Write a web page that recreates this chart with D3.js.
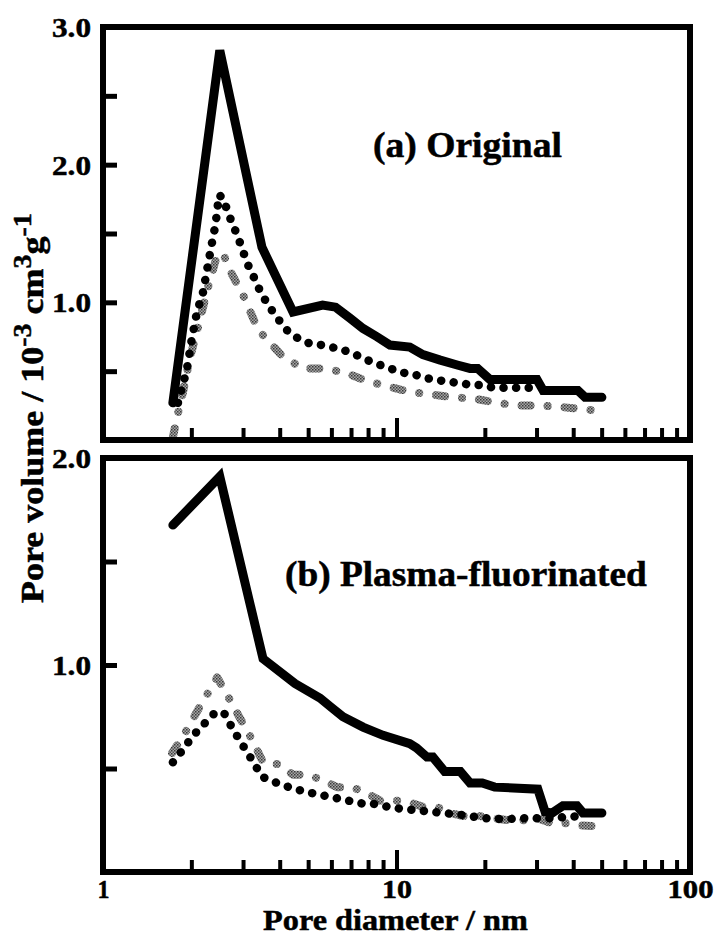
<!DOCTYPE html>
<html>
<head>
<meta charset="utf-8">
<script src="https://cdn.jsdelivr.net/npm/d3@7/dist/d3.min.js"></script>
<style>
  html, body { margin: 0; padding: 0; background: #fff; }
  svg { display: block; }
  text { font-family: "Liberation Serif", "Times New Roman", serif; font-weight: bold; fill: #000; stroke: #000; stroke-width: 0.5px; }
</style>
</head>
<body>
<svg id="chart" width="720" height="946"></svg>
<script>
// Pore size distributions: [pore diameter (nm), pore volume (10^-3 cm^3 g^-1)]

// (a) Original
const origSolid = [
  [1.73, 0.27], [2.50, 2.83], [3.48, 1.40], [4.44, 0.93], [5.60, 0.98], [6.20, 0.965],
  [6.94, 0.885], [7.69, 0.81], [8.58, 0.75], [9.50, 0.69], [11.1, 0.675], [12.3, 0.62],
  [14.1, 0.58], [16.1, 0.545], [17.8, 0.52], [18.9, 0.52], [20.8, 0.44], [30.1, 0.44],
  [31.6, 0.36], [41.5, 0.36], [43.9, 0.31], [50.1, 0.31]
];
const origDotted = [
  [1.80, 0.27], [1.93, 0.51], [2.01, 0.74], [2.09, 0.93], [2.19, 1.07], [2.30, 1.32],
  [2.35, 1.43], [2.41, 1.55], [2.45, 1.66], [2.48, 1.78], [2.56, 1.76], [2.69, 1.63],
  [2.82, 1.525], [2.97, 1.40], [3.09, 1.29], [3.27, 1.18], [3.45, 1.07], [3.68, 0.97],
  [3.98, 0.87], [4.30, 0.78], [4.69, 0.73], [5.08, 0.70], [5.54, 0.69], [5.98, 0.675],
  [6.47, 0.66], [7.05, 0.63], [7.63, 0.60], [8.25, 0.565], [8.93, 0.54], [9.65, 0.515],
  [10.4, 0.49], [11.3, 0.48], [12.2, 0.46], [13.2, 0.44], [14.3, 0.43], [15.5, 0.42],
  [16.7, 0.41], [18.1, 0.40], [19.6, 0.40], [21.3, 0.38], [30.8, 0.38]
];
const origGray = [
  [1.73, 0.02], [1.79, 0.17], [1.87, 0.34], [1.98, 0.60], [2.12, 0.84], [2.28, 1.11],
  [2.43, 1.32], [2.56, 1.36], [2.71, 1.23], [3.02, 1.04], [3.38, 0.80], [4.04, 0.62],
  [4.77, 0.52], [5.62, 0.52], [6.68, 0.49], [7.90, 0.43], [9.50, 0.385], [11.1, 0.35],
  [13.2, 0.33], [15.6, 0.31], [18.5, 0.30], [22.0, 0.27], [25.9, 0.25], [30.8, 0.25],
  [36.1, 0.24], [43.2, 0.225], [49.4, 0.21]
];

// (b) Plasma-fluorinated
const fluorSolid = [
  [1.73, 1.676], [2.50, 1.91], [3.51, 1.03], [4.51, 0.91], [5.49, 0.84], [5.94, 0.80],
  [6.57, 0.75], [7.69, 0.70], [9.00, 0.66], [11.1, 0.62], [11.7, 0.60], [12.7, 0.555],
  [13.3, 0.555], [14.6, 0.485], [16.5, 0.485], [17.8, 0.43], [19.6, 0.43], [21.6, 0.41],
  [30.3, 0.40], [32.1, 0.29], [33.9, 0.285], [36.9, 0.32], [41.2, 0.32], [43.2, 0.285],
  [50.1, 0.285]
];
const fluorDotted = [
  [1.73, 0.53], [1.87, 0.59], [2.03, 0.66], [2.21, 0.715], [2.41, 0.77], [2.58, 0.77],
  [2.77, 0.69], [3.00, 0.61], [3.24, 0.535], [3.48, 0.46], [3.77, 0.44], [4.07, 0.42],
  [4.44, 0.405], [4.80, 0.39], [5.19, 0.38], [5.62, 0.37], [6.08, 0.36], [6.57, 0.35],
  [7.11, 0.34], [7.69, 0.33], [8.32, 0.33], [9.73, 0.31], [11.4, 0.30], [14.4, 0.285],
  [16.9, 0.275], [19.7, 0.26], [23.4, 0.255], [27.4, 0.26], [30.1, 0.26], [33.3, 0.26],
  [37.5, 0.265], [42.2, 0.27]
];
const fluorGray = [
  [1.72, 0.575], [1.90, 0.67], [2.14, 0.80], [2.45, 0.94], [2.65, 0.855], [2.91, 0.75],
  [3.22, 0.64], [3.51, 0.53], [3.98, 0.52], [4.44, 0.47], [4.95, 0.47], [5.58, 0.445],
  [6.27, 0.41], [7.05, 0.41], [7.81, 0.385], [8.79, 0.345], [9.90, 0.345], [10.9, 0.34],
  [12.3, 0.315], [13.7, 0.315], [15.2, 0.285], [16.9, 0.27], [19.3, 0.27], [21.5, 0.26],
  [24.0, 0.25], [27.0, 0.25], [30.1, 0.26], [33.9, 0.235], [38.1, 0.235], [42.2, 0.225],
  [49.0, 0.22]
];

// Axis ticks and labels
const xMinorTicks = [2, 3, 4, 5, 6, 7, 8, 9, 20, 30, 40, 50, 60, 70, 80, 90];
const xMajorTicks = [10];
const xTickLabels = [1, 10, 100];
const yTicksTop = [0.5, 1, 1.5, 2, 2.5];
const yLabelsTop = [1, 2, 3];
const yTicksBottom = [0.5, 1, 1.5];
const yLabelsBottom = [1, 2];

const svg = d3.select("#chart");
const plotLeft = 103, plotRight = 690;

// halftone fill for the gray series
const defs = svg.append("defs");
const pat = defs.append("pattern")
  .attr("id", "halftone")
  .attr("patternUnits", "userSpaceOnUse")
  .attr("width", 3)
  .attr("height", 3);
pat.append("rect").attr("width", 3).attr("height", 3).attr("fill", "#a8a8a8");
pat.append("rect").attr("width", 1.5).attr("height", 1.5).attr("fill", "#3a3a3a");
pat.append("rect").attr("x", 1.5).attr("y", 1.5).attr("width", 1.5).attr("height", 1.5).attr("fill", "#555");

const x = d3.scaleLog().domain([1, 100]).range([plotLeft, plotRight]);

// Horizontally stretch a text element to a given width, about its x anchor
function stretchTo(sel, widthFn) {
  sel.each(function (d) {
    const node = this;
    const natural = node.getComputedTextLength();
    const target = typeof widthFn === "function" ? widthFn(d, node) : widthFn;
    const s = target / natural;
    const x0 = +node.getAttribute("x") || 0;
    d3.select(node).attr("transform", `translate(${x0},0) scale(${s},1) translate(${-x0},0)`);
  });
}

const panels = [
  {
    top: 27, bottom: 440, max: 3,
    ticks: yTicksTop, labels: yLabelsTop,
    solid: origSolid, dotted: origDotted, gray: origGray,
    title: "(a) Original", titleX: 373, titleY: 157, titleW: 189
  },
  {
    top: 458, bottom: 872, max: 2,
    ticks: yTicksBottom, labels: yLabelsBottom,
    solid: fluorSolid, dotted: fluorDotted, gray: fluorGray,
    title: "(b) Plasma-fluorinated", titleX: 285, titleY: 586, titleW: 362
  }
];

panels.forEach((p, i) => {
  const y = d3.scaleLinear().domain([0, p.max]).range([p.bottom, p.top]);
  const g = svg.append("g");

  const line = d3.line().x(d => x(d[0])).y(d => y(d[1]));

  // gray dash-dot series
  g.append("path")
    .datum(p.gray)
    .attr("d", line)
    .attr("fill", "none")
    .attr("stroke", "url(#halftone)")
    .attr("stroke-width", 8)
    .attr("stroke-linecap", "round")
    .attr("stroke-linejoin", "round")
    .attr("stroke-dasharray", "9 17 0.1 17");

  // black dotted series
  g.append("path")
    .datum(p.dotted)
    .attr("d", line)
    .attr("fill", "none")
    .attr("stroke", "#000")
    .attr("stroke-width", 8.5)
    .attr("stroke-linecap", "round")
    .attr("stroke-dasharray", "0.1 12.5");

  // solid series
  g.append("path")
    .datum(p.solid)
    .attr("d", line)
    .attr("fill", "none")
    .attr("stroke", "#000")
    .attr("stroke-width", 9)
    .attr("stroke-linecap", "round")
    .attr("stroke-linejoin", "miter");

  // inward y tick marks
  const yTickAxis = g.append("g")
    .attr("transform", `translate(${plotLeft},0)`)
    .call(d3.axisLeft(y).tickValues(p.ticks).tickSize(-14).tickFormat(""));
  yTickAxis.select(".domain").remove();
  yTickAxis.selectAll("line").attr("stroke", "#000").attr("stroke-width", 5);

  // y tick labels
  const yLab = g.append("g")
    .attr("transform", `translate(${plotLeft},0)`)
    .call(d3.axisLeft(y).tickValues(p.labels).tickSize(0).tickPadding(12).tickFormat(d3.format(".1f")));
  yLab.select(".domain").remove();
  yLab.selectAll("text")
    .attr("font-size", 28)
    .attr("font-family", null)
    .attr("dy", "0.34em")
    .call(stretchTo, 39);

  // inward x tick marks (minor and decade)
  const xMinor = g.append("g")
    .attr("transform", `translate(0,${p.bottom})`)
    .call(d3.axisBottom(x).tickValues(xMinorTicks).tickSize(-12).tickFormat(""));
  xMinor.select(".domain").remove();
  xMinor.selectAll("line").attr("stroke", "#000").attr("stroke-width", 4);

  const xMajor = g.append("g")
    .attr("transform", `translate(0,${p.bottom})`)
    .call(d3.axisBottom(x).tickValues(xMajorTicks).tickSize(-22).tickFormat(""));
  xMajor.select(".domain").remove();
  xMajor.selectAll("line").attr("stroke", "#000").attr("stroke-width", 4);

  // frame
  g.append("rect")
    .attr("x", plotLeft)
    .attr("y", p.top)
    .attr("width", plotRight - plotLeft)
    .attr("height", p.bottom - p.top)
    .attr("fill", "none")
    .attr("stroke", "#000")
    .attr("stroke-width", 6);

  // panel title
  g.append("text")
    .attr("x", p.titleX)
    .attr("y", p.titleY)
    .attr("font-size", 35)
    .text(p.title)
    .call(stretchTo, p.titleW);

  // x tick labels under the lower panel
  if (i === panels.length - 1) {
    const widths = { 1: 12, 10: 30, 100: 46 };
    const xLab = g.append("g")
      .attr("transform", `translate(0,${p.bottom})`)
      .call(d3.axisBottom(x).tickValues(xTickLabels).tickSize(0).tickFormat(d3.format("d")));
    xLab.select(".domain").remove();
    xLab.selectAll("text")
      .attr("font-size", 26)
      .attr("font-family", null)
      .attr("y", 26)
      .attr("dy", 0)
      .call(stretchTo, d => widths[d]);
  }
});

// x axis title
svg.append("text")
  .attr("x", 395.5)
  .attr("y", 930)
  .attr("text-anchor", "middle")
  .attr("font-size", 30)
  .text("Pore diameter / nm")
  .call(stretchTo, 265);

// y axis title with superscripts
const yTitle = svg.append("g")
  .attr("transform", "translate(43,408) rotate(-90)")
  .append("text")
  .attr("x", 0)
  .attr("y", 0)
  .attr("text-anchor", "middle")
  .attr("font-size", 32);
yTitle.append("tspan").text("Pore volume / 10");
yTitle.append("tspan").attr("dy", -12).attr("font-size", 25).text("-3");
yTitle.append("tspan").attr("dy", 12).text(" cm");
yTitle.append("tspan").attr("dy", -12).attr("font-size", 25).text("3");
yTitle.append("tspan").attr("dy", 12).text("g");
yTitle.append("tspan").attr("dy", -12).attr("font-size", 25).text("-1");
yTitle.call(stretchTo, 390);
</script>
</body>
</html>
